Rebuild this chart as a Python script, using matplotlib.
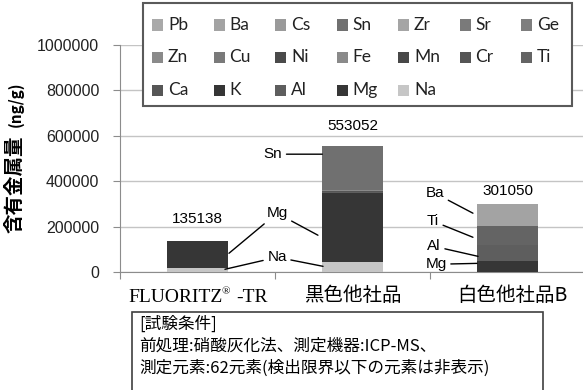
import matplotlib
matplotlib.use("Agg")
import matplotlib.pyplot as plt
from matplotlib.patches import Rectangle
import numpy as np

plt.rcParams['font.family'] = ['Liberation Sans', 'Noto Sans CJK JP', 'DejaVu Sans']

# ---- data ----
samples = ["FLUORITZ® -TR", "黒色他社品", "白色他社品B"]
# stacking order, bottom to top
elements = ["Na", "Mg", "Al", "K", "Ca", "Ti", "Cr", "Mn", "Fe", "Ni",
            "Cu", "Zn", "Ge", "Sr", "Zr", "Sn", "Cs", "Ba", "Pb"]
values = {
    "Na": [18000, 44000, 0],
    "Mg": [117138, 302000, 50000],
    "Al": [0, 6000, 70000],
    "K":  [0, 0, 0],
    "Ca": [0, 5000, 0],
    "Ti": [0, 0, 81000],
    "Cr": [0, 0, 0],
    "Mn": [0, 0, 0],
    "Fe": [0, 4000, 0],
    "Ni": [0, 0, 0],
    "Cu": [0, 0, 0],
    "Zn": [0, 0, 0],
    "Ge": [0, 0, 0],
    "Sr": [0, 0, 0],
    "Zr": [0, 0, 0],
    "Sn": [0, 192052, 0],
    "Cs": [0, 0, 0],
    "Ba": [0, 0, 100050],
    "Pb": [0, 0, 0],
}
legend_rows = [["Pb", "Ba", "Cs", "Sn", "Zr", "Sr", "Ge"],
               ["Zn", "Cu", "Ni", "Fe", "Mn", "Cr", "Ti"],
               ["Ca", "K", "Al", "Mg", "Na"]]
yticks = [0, 200000, 400000, 600000, 800000, 1000000]

colors = {
    "Pb": "#a9a9a9", "Ba": "#a3a3a3", "Cs": "#9a9a9a", "Sn": "#707070",
    "Zr": "#a5a5a5", "Sr": "#7a7a7a", "Ge": "#7e7e7e", "Zn": "#8a8a8a",
    "Cu": "#7a7a7a", "Ni": "#4a4a4a", "Fe": "#8a8a8a", "Mn": "#484848",
    "Cr": "#555555", "Ti": "#646464", "Ca": "#565656", "K": "#353535",
    "Al": "#5e5e5e", "Mg": "#363636", "Na": "#c6c6c6",
}

W, H = 583, 390
fig = plt.figure(figsize=(W / 100, H / 100), dpi=100)


def fx(px):
    return px / W


def fy(py):
    return 1 - py / H


ax = fig.add_axes([fx(120), fy(272), 465 / W, 227 / H])

x = np.arange(len(samples))
bottom = np.zeros(len(samples))
for el in elements:
    v = np.array(values[el], dtype=float)
    ax.bar(x, v, width=0.39, bottom=bottom, color=colors[el], linewidth=0, zorder=3)
    bottom += v

ax.set_xlim(-0.5, 2.5)
ax.set_ylim(0, 1000000)
ax.set_yticks(yticks)
ax.set_yticklabels([str(t) for t in yticks], fontsize=11.5, color="#222222")
ax.yaxis.grid(True, color="#c4c4c4", linewidth=1, zorder=0)
for s in ["top", "right"]:
    ax.spines[s].set_visible(False)
for s in ["left", "bottom"]:
    ax.spines[s].set_color("#8c8c8c")
ax.tick_params(axis="y", direction="out", length=5, color="#8c8c8c", pad=10)
ax.set_xticks([-0.5, 0.5, 1.5, 2.5])
ax.set_xticklabels([])
ax.tick_params(axis="x", direction="out", length=5, color="#8c8c8c")

# category labels
fig.text(fx(128), fy(297), "FLUORITZ", ha="left", va="center", fontsize=14,
         family="Liberation Serif")
fig.text(fx(222), fy(292), "®", ha="left", va="center", fontsize=8,
         family="Liberation Serif")
fig.text(fx(236), fy(297), "-TR", ha="left", va="center", fontsize=14,
         family="Liberation Serif")
ax.text(1, -0.105, samples[1], transform=ax.get_xaxis_transform(),
        ha="center", va="center", fontsize=14, family="Noto Sans CJK JP")
ax.text(2.03, -0.105, samples[2], transform=ax.get_xaxis_transform(),
        ha="center", va="center", fontsize=14, family="Noto Sans CJK JP")

# totals above bars
totals = bottom
offsets = [16, 15, 9]
for i, t in enumerate(totals):
    ax.annotate(f"{int(round(t))}", xy=(x[i], t), xytext=(0, offsets[i]),
                textcoords="offset points", ha="center", va="center", fontsize=11)

# element callouts (one label, one or more leader lines)
line = dict(arrowstyle="-", color="black", lw=1, shrinkA=1, shrinkB=0)
callouts = [
    ("Sn", (0.487, 519000), [(0.805, 519000)]),
    ("Mg", (0.513, 259000), [(0.203, 82500), (0.777, 162000)]),
    ("Na", (0.513, 65000), [(0.177, 12000), (0.81, 25000)]),
    ("Ba", (1.532, 347000), [(1.777, 259000)]),
    ("Ti", (1.519, 224000), [(1.777, 153000)]),
    ("Al", (1.526, 113000), [(1.81, 69000)]),
    ("Mg", (1.539, 34000), [(1.803, 38000)]),
]
for name, txy, targets in callouts:
    for k, xy in enumerate(targets):
        ax.annotate(name, xy=xy, xytext=txy, ha="center", va="center",
                    fontsize=11, arrowprops=line, zorder=6,
                    color="black" if k == 0 else (0, 0, 0, 0))

# legend box
fig.patches.append(Rectangle((fx(143), fy(106)), (572 - 143) / W, (106 - 3) / H,
                             transform=fig.transFigure, facecolor="white",
                             edgecolor="#5a5a5a", linewidth=1.5, zorder=5))
for r, row in enumerate(legend_rows):
    cy = 25 + r * 32.5
    for c, el in enumerate(row):
        lx = 152 + c * 61.5
        fig.patches.append(Rectangle((fx(lx), fy(cy + 5.5)), 11 / W, 11 / H,
                                     transform=fig.transFigure, facecolor=colors[el],
                                     edgecolor="none", zorder=6))
        fig.text(fx(lx + 16), fy(cy), el, ha="left", va="center", fontsize=12.5,
                 family="Lato", color="#222222", zorder=7)

# y-axis title
fig.text(fx(15), fy(184), "含有金属量", rotation=90, ha="center", va="center",
         fontsize=14, weight="bold", family="Noto Sans CJK JP")
fig.text(fx(16), fy(104), "(ng/g)", rotation=90, ha="center", va="center",
         fontsize=11, weight="bold", family="Noto Sans CJK JP")

# test conditions box
fig.patches.append(Rectangle((fx(132), fy(395)), (543 - 132) / W, (395 - 312) / H,
                             transform=fig.transFigure, facecolor="white",
                             edgecolor="#404040", linewidth=1.2, zorder=5))
cond = ["[試験条件]",
        "前処理:硝酸灰化法、測定機器:ICP-MS、",
        "測定元素:62元素(検出限界以下の元素は非表示)"]
for i, s in enumerate(cond):
    fig.text(fx(139), fy(324 + i * 22), s, ha="left", va="center", fontsize=12,
             family="Noto Sans CJK JP", zorder=7)

fig.savefig("out.png", dpi=100)
